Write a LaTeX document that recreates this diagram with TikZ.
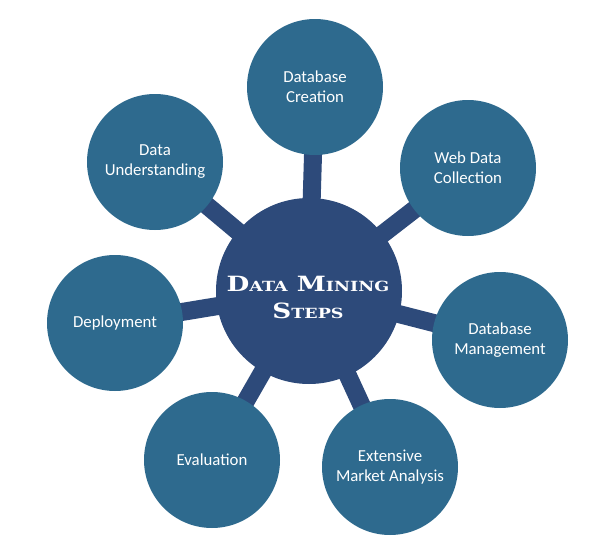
\documentclass[tikz,border=0pt]{standalone}
\usepackage{fontspec}
\setmainfont{Carlito}
\newfontfamily\titlefont{DejaVu Serif}
\usetikzlibrary{backgrounds}
\definecolor{outerblue}{RGB}{46,106,142}
\definecolor{hubblue}{RGB}{45,74,122}
\newcommand\hubsc[2]{{\fontsize{21}{27}\selectfont #1}{\fontsize{14}{27}\selectfont #2}}
\newcommand\hubline[1]{\scalebox{1.25}[1]{#1}}
\begin{document}
\begin{tikzpicture}[x=1pt,y=-1pt,
  outer/.style={circle, fill=outerblue, minimum size=136pt, inner sep=0pt,
    text=white, font=\fontsize{16.8}{20}\selectfont, align=center},
  hub/.style={circle, fill=hubblue, minimum size=186pt, inner sep=0pt},
  hubtext/.style={text=white, align=center, inner sep=0pt,
    font=\titlefont\bfseries\fontsize{21}{27}\selectfont},
  spoke/.style={draw=hubblue, line width=18pt}]
\useasboundingbox (0,0) rectangle (614,549);
\node[hub] (c) at (309,291) {};
\node[hubtext] (ct) at (308,297) {\hubline{\hubsc{D}{ATA} \hubsc{M}{INING}}\\\hubline{\hubsc{S}{TEPS}}};
\node[outer] (dc) at (315,87) {Database\\Creation};
\node[outer] (wd) at (468,168) {Web Data\\Collection};
\node[outer] (dm) at (500,340) {Database\\Management};
\node[outer] (em) at (390,467) {Extensive\\Market Analysis};
\node[outer] (ev) at (212,460) {Evaluation};
\node[outer] (dp) at (115,323) {Deployment};
\node[outer] (du) at (155,162) {Data\\Understanding};
\begin{scope}[on background layer]
\foreach \n in {dc,wd,dm,em,ev,dp,du}
  \draw[spoke] (c.center) -- (\n.center);
\end{scope}
\end{tikzpicture}
\end{document}
